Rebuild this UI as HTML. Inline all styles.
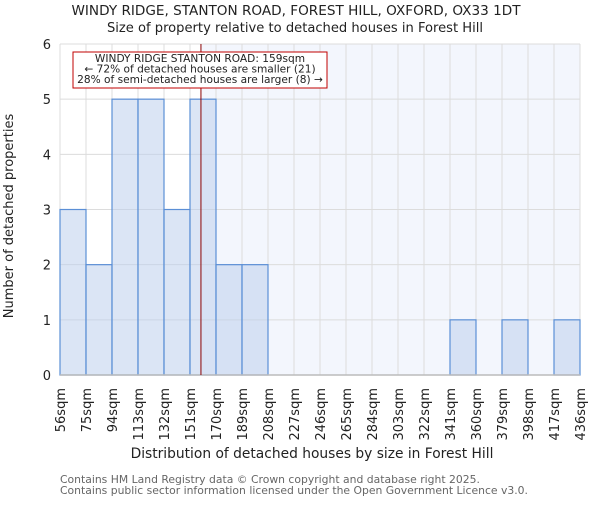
<!DOCTYPE html>
<html><head><meta charset="utf-8"><style>
body{margin:0;background:#fff;}
svg{font-family:"DejaVu Sans","Liberation Sans",sans-serif;}
</style></head><body>
<svg id="chart" width="600" height="500" xmlns="http://www.w3.org/2000/svg">
<text x="296" y="15" font-size="13.6" text-anchor="middle" fill="#222">WINDY RIDGE, STANTON ROAD, FOREST HILL, OXFORD, OX33 1DT</text>
<text x="295" y="32" font-size="13.1" text-anchor="middle" fill="#222">Size of property relative to detached houses in Forest Hill</text>
<g id="plot"></g>
<text x="312" y="458" font-size="13.8" text-anchor="middle" fill="#222">Distribution of detached houses by size in Forest Hill</text>
<text transform="translate(13,216) rotate(-90)" font-size="13" text-anchor="middle" fill="#222">Number of detached properties</text>
<text x="60" y="483" font-size="10.8" fill="#666">Contains HM Land Registry data © Crown copyright and database right 2025.</text>
<text x="60" y="494" font-size="10.8" fill="#666">Contains public sector information licensed under the Open Government Licence v3.0.</text>
</svg>
<script>
const categories=["56sqm","75sqm","94sqm","113sqm","132sqm","151sqm","170sqm","189sqm","208sqm","227sqm","246sqm","265sqm","284sqm","303sqm","322sqm","341sqm","360sqm","379sqm","398sqm","417sqm","436sqm"];
const counts=[3,2,5,5,3,5,2,2,0,0,0,0,0,0,0,1,0,1,0,1];
const yTicks=[0,1,2,3,4,5,6];
const binStart=56, binWidth=19;
const propertySize=159;
const annotation=["WINDY RIDGE STANTON ROAD: 159sqm","← 72% of detached houses are smaller (21)","28% of semi-detached houses are larger (8) →"];

const L=60,R=580,T=44,B=375,yMax=6;
const nb=counts.length;
const xs=v=>L+(v-binStart)/(binWidth*nb)*(R-L);
const xi=i=>L+i*(R-L)/nb;
const ys=v=>B-v/yMax*(B-T);
const NS="http://www.w3.org/2000/svg";
const g=document.getElementById('plot');
function mk(tag,attrs){const e=document.createElementNS(NS,tag);for(const k in attrs)e.setAttribute(k,attrs[k]);g.appendChild(e);return e;}
const px=xs(propertySize);
let e;
e=mk('rect',{x:L,y:T,width:px-L,height:B-T,fill:'#fff'});


e=mk('rect',{x:px,y:T,width:R-px,height:B-T,fill:'#f3f6fd'});


for(let i=0;i<=nb;i++){e=mk('line',{x1:xi(i),x2:xi(i),y1:T,y2:B,stroke:'#dcdcdc','stroke-width':1});

}
yTicks.forEach(t=>{e=mk('line',{x1:L,x2:R,y1:ys(t),y2:ys(t),stroke:'#dcdcdc','stroke-width':1});


const tx=mk('text',{x:L-9,y:ys(t)+5,'font-size':13,'text-anchor':'end',fill:'#222'});tx.textContent=t;

});
counts.forEach((c,i)=>{if(!c)return;e=mk('rect',{x:xi(i),y:ys(c),width:xi(i+1)-xi(i),height:B-ys(c),fill:'rgba(190,208,236,0.55)',stroke:'#5b8fd6','stroke-width':1.2});

});
e=mk('line',{x1:L,x2:R,y1:B,y2:B,stroke:'#bbb','stroke-width':1.5});


categories.forEach((c,i)=>{const x=xi(i);const t=mk('text',{transform:`translate(${x+5},388) rotate(-90)`,'font-size':13,'text-anchor':'end',fill:'#222'});t.textContent=c;

});
e=mk('line',{x1:px,x2:px,y1:T,y2:B,stroke:'#8b0000','stroke-width':1});


e=mk('rect',{x:73,y:52,width:254,height:36,fill:'#fff',stroke:'#c00000','stroke-width':1});


annotation.forEach((s,i)=>{const t=mk('text',{x:200,y:62+i*10.5,'font-size':10.6,'text-anchor':'middle',fill:'#222'});t.textContent=s;

});
</script>
</body></html>
